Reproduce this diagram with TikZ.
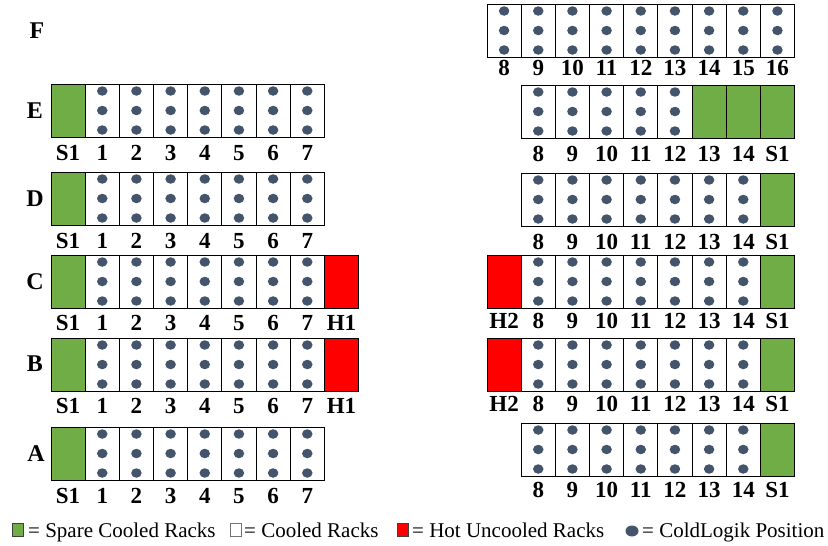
\documentclass[tikz,border=0pt]{standalone}
\usepackage{fontspec}
\setmainfont{Liberation Serif}
\usetikzlibrary{calc,shapes.geometric}
\definecolor{spare}{HTML}{70AD47}
\definecolor{hot}{HTML}{FF0000}
\definecolor{dotc}{HTML}{44546A}
\tikzset{
  rkbase/.style={draw=black, line width=0.9pt, minimum width=34.17pt, minimum height=53pt,
    inner sep=0pt, outer sep=0pt, anchor=north west},
  rkc/.style={rkbase, fill=white},
  rks/.style={rkbase, fill=spare},
  rkh/.style={rkbase, fill=hot},
  rkdot/.style={ellipse, fill=dotc, minimum width=10.5pt, minimum height=9.5pt, inner sep=0pt},
  lab/.style={font=\bfseries\fontsize{23}{23}\selectfont, anchor=base, inner sep=0pt},
  rowlab/.style={font=\bfseries\fontsize{24}{24}\selectfont, inner sep=0pt},
  legtxt/.style={font=\fontsize{21}{21}\selectfont, anchor=base west, inner sep=0pt},
  legbox/.style={draw=black!75, line width=0.6pt, minimum width=11pt, minimum height=13pt, inner sep=0pt},
}
\newcommand\rackrow[5]{%
  \foreach \t/\l [count=\k from 0] in {#5} {
    \node[rk\t] (#1-\k) at ({#2+34.17*\k},#3) {};
    \node[lab] (#1-\k-lab) at ($(#1-\k.south)+(0,#4)$) {\l};
    \if c\t
      \foreach \dy [count=\j] in {-19.5,0,19.5}
        \node[rkdot] (#1-\k-d\j) at ($(#1-\k.center)+(0,\dy)$) {};
    \fi
  }}
\begin{document}
\begin{tikzpicture}[x=1pt,y=-1pt]
\fill[white] (0,0) rectangle (828,546);
\useasboundingbox (0,0) rectangle (828,546);

% row letters
\node[rowlab] (rowF) at (37,31) {F};
\node[rowlab] (rowE) at (35,111) {E};
\node[rowlab] (rowD) at (35,199) {D};
\node[rowlab] (rowC) at (35,282) {C};
\node[rowlab] (rowB) at (35,364) {B};
\node[rowlab] (rowA) at (36,454) {A};

% left rows
\rackrow{LE}{51}{84}{23}{s/S1,c/1,c/2,c/3,c/4,c/5,c/6,c/7}
\rackrow{LD}{51}{172}{23}{s/S1,c/1,c/2,c/3,c/4,c/5,c/6,c/7}
\rackrow{LC}{51}{255}{22}{s/S1,c/1,c/2,c/3,c/4,c/5,c/6,c/7,h/H1}
\rackrow{LB}{51}{338}{22}{s/S1,c/1,c/2,c/3,c/4,c/5,c/6,c/7,h/H1}
\rackrow{LA}{51}{427}{23}{s/S1,c/1,c/2,c/3,c/4,c/5,c/6,c/7}

% right rows
\rackrow{RF}{487}{4}{18}{c/8,c/9,c/10,c/11,c/12,c/13,c/14,c/15,c/16}
\rackrow{RE}{521.17}{85}{23}{c/8,c/9,c/10,c/11,c/12,s/13,s/14,s/S1}
\rackrow{RD}{521.17}{173}{23}{c/8,c/9,c/10,c/11,c/12,c/13,c/14,s/S1}
\rackrow{RC}{487}{255}{20}{h/H2,c/8,c/9,c/10,c/11,c/12,c/13,c/14,s/S1}
\rackrow{RB}{487}{338}{20}{h/H2,c/8,c/9,c/10,c/11,c/12,c/13,c/14,s/S1}
\rackrow{RA}{521.17}{423}{21}{c/8,c/9,c/10,c/11,c/12,c/13,c/14,s/S1}

% legend
\node[legbox, fill=spare] (lgS) at (17.5,529.5) {};
\node[legtxt] (ltS) at (28,537) {= Spare Cooled Racks};
\node[legbox, fill=white, draw=black!55] (lgC) at (235.5,529.5) {};
\node[legtxt] (ltC) at (244,537) {= Cooled Racks};
\node[legbox, fill=hot] (lgH) at (402.5,529.5) {};
\node[legtxt] (ltH) at (412,537) {= Hot Uncooled Racks};
\node[ellipse, fill=dotc, minimum width=13pt, minimum height=11pt, inner sep=0pt] (lgD) at (632,531) {};
\node[legtxt] (ltD) at (642,537) {= ColdLogik Position};
\end{tikzpicture}
\end{document}
